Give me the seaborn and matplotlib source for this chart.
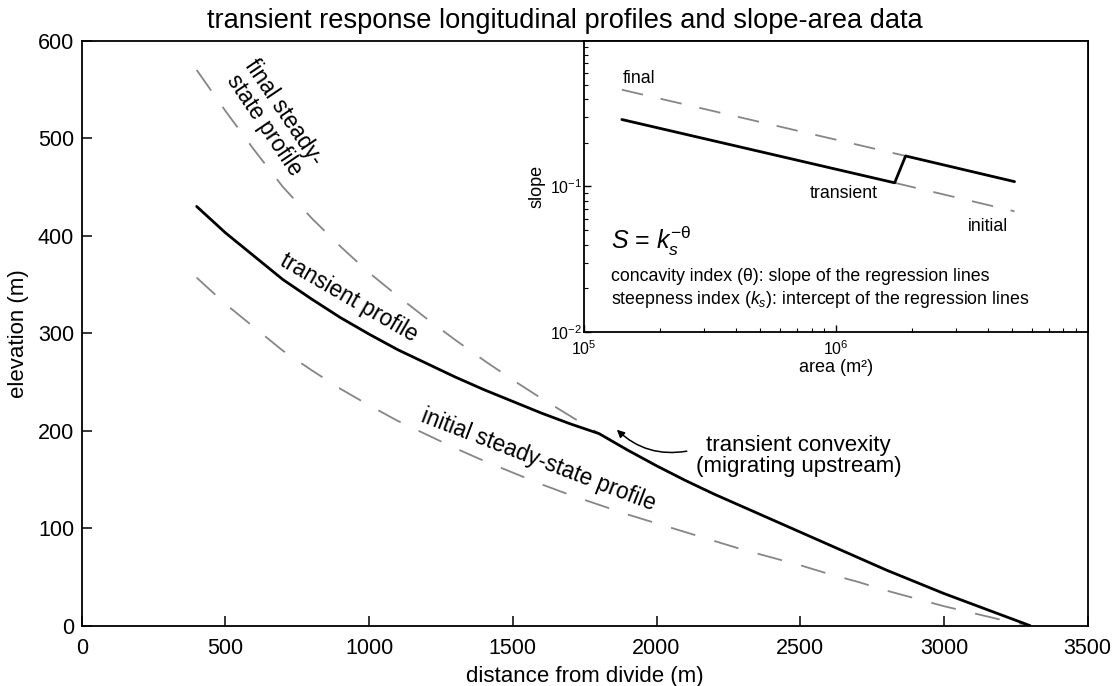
import numpy as np
import matplotlib
matplotlib.use("Agg")
import matplotlib.pyplot as plt
import seaborn as sns

# longitudinal profiles (distance from divide, m / elevation, m)
distance = [400, 500, 600, 700, 800, 900, 1000, 1100, 1200, 1300, 1400, 1500,
            1600, 1700, 1800, 1900, 2000, 2100, 2200, 2300, 2400, 2500, 2600,
            2700, 2800, 2900, 3000, 3100, 3200, 3300]
initial_elev = [357, 330, 306, 282, 262, 243, 226, 210, 196, 182, 169, 157,
                145, 134, 124, 114, 105, 96, 87, 78, 70, 62, 53,
                45, 36, 28, 20, 13, 6, 0]
transient_elev = [430, 403, 379, 355, 335, 316, 299, 283, 269, 255, 242, 230,
                  218, 207, 197, 180, 164, 149, 135, 122, 109, 96, 83,
                  70, 57, 45, 33, 22, 11, 0]
final_dist = [400, 500, 600, 700, 800, 900, 1000, 1100, 1200, 1300, 1400,
              1500, 1600, 1700, 1800]
final_elev = [570, 528, 488, 450, 418, 389, 362, 338, 315, 293, 272,
              252, 233, 215, 197]

# slope-area regression lines (inset)
final_area = [1.41e5, 1.89e6]
final_slope = [0.461, 0.162]
initial_area = [1.71e6, 5.12e6]
initial_slope = [0.106, 0.0676]
transient_area = [1.41e5, 1.71e6, 1.89e6, 5.12e6]
transient_slope = [0.288, 0.106, 0.162, 0.108]

GRAY = "#868686"
DASH = (0, (14, 11))

sns.set_theme(style="ticks")
plt.rcParams["font.family"] = ["Liberation Sans", "DejaVu Sans"]
plt.rcParams["mathtext.fontset"] = "custom"
plt.rcParams["mathtext.rm"] = "Liberation Sans"
plt.rcParams["mathtext.it"] = "Liberation Sans:italic"
plt.rcParams["mathtext.default"] = "regular"
plt.rcParams["axes.linewidth"] = 1.3
plt.rcParams["axes.edgecolor"] = "black"
plt.rcParams["text.color"] = "black"
plt.rcParams["axes.labelcolor"] = "black"
plt.rcParams["xtick.color"] = "black"
plt.rcParams["ytick.color"] = "black"

fig = plt.figure(figsize=(11.17, 6.86), dpi=100)
ax = fig.add_axes([0.07314, 0.08790, 0.90063, 0.85277])

sns.lineplot(x=final_dist, y=final_elev, ax=ax, color=GRAY, lw=1.3,
             linestyle=DASH, estimator=None, sort=False, legend=False)
sns.lineplot(x=distance, y=initial_elev, ax=ax, color=GRAY, lw=1.3,
             linestyle=DASH, estimator=None, sort=False, legend=False)
sns.lineplot(x=distance, y=transient_elev, ax=ax, color="black", lw=2,
             estimator=None, sort=False, legend=False)

ax.set_xlim(0, 3500)
ax.set_ylim(0, 600)
ax.set_xticks(range(0, 3501, 500))
ax.set_yticks(range(0, 601, 100))
ax.tick_params(direction="in", length=7.5, width=1.1, labelsize=15.5,
               top=False, right=False)
ax.tick_params(axis="x", pad=9)
ax.tick_params(axis="y", pad=5.5)
ax.set_xlabel("distance from divide (m)", fontsize=16, labelpad=5)
ax.set_ylabel("elevation (m)", fontsize=16, labelpad=6)

fig.text(0.506, 0.970, "transient response longitudinal profiles and slope-area data",
         ha="center", va="center", fontsize=19.6)

ax.text(668, 520, "final steady-\nstate profile", rotation=-56, fontsize=16.3,
        ha="center", va="center", rotation_mode="anchor", linespacing=1.05)
ax.text(928, 336, "transient profile", rotation=-30, fontsize=16.3,
        ha="center", va="center", rotation_mode="anchor")
ax.text(1588, 170, "initial steady-state profile", rotation=-21, fontsize=16.3,
        ha="center", va="center", rotation_mode="anchor")
ax.text(2494, 174, "transient convexity\n(migrating upstream)", fontsize=16,
        ha="center", va="center", linespacing=1.05)
ax.annotate("", xy=(1862, 201), xytext=(2105, 179),
            arrowprops=dict(arrowstyle="-|>", color="black", lw=1.1,
                            mutation_scale=11,
                            connectionstyle="arc3,rad=-0.25",
                            shrinkA=0, shrinkB=0))

# inset: slope-area data
ins = fig.add_axes([0.52310, 0.51560, 0.45067, 0.42507])
ins.set_facecolor("white")
sns.lineplot(x=final_area, y=final_slope, ax=ins, color=GRAY, lw=1.3,
             linestyle=(0, (12, 10)), estimator=None, sort=False, legend=False)
sns.lineplot(x=initial_area, y=initial_slope, ax=ins, color=GRAY, lw=1.3,
             linestyle=(0, (12, 10)), estimator=None, sort=False, legend=False)
sns.lineplot(x=transient_area, y=transient_slope, ax=ins, color="black", lw=2,
             estimator=None, sort=False, legend=False)
ins.set_xscale("log")
ins.set_yscale("log")
ins.set_xlim(1e5, 1e7)
ins.set_ylim(1e-2, 1e0)
ins.set_xticks([1e5, 1e6])
ins.set_yticks([1e-2, 1e-1])
ins.tick_params(which="major", direction="in", length=5, width=1, labelsize=11.5,
                top=False, right=False)
ins.tick_params(which="minor", direction="in", length=3, width=0.8,
                top=False, right=False)
ins.tick_params(axis="x", which="major", pad=5)
ins.tick_params(axis="y", which="major", pad=1.5)
ins.set_xlabel("area (m²)", fontsize=13, labelpad=1)
ins.set_ylabel("slope", fontsize=13, labelpad=3)

ins.text(1.42e5, 0.548, "final", fontsize=12.8, ha="left", va="center")
ins.text(1.07e6, 0.090, "transient", fontsize=12.8, ha="center", va="center")
ins.text(4.0e6, 0.0534, "initial", fontsize=12.8, ha="center", va="center")
ins.text(0.053, 0.3125, r"$\mathit{S}$ = $\mathit{k}_\mathit{s}^{-\theta}$",
         fontsize=18, ha="left", va="center", transform=ins.transAxes)
ins.text(0.053, 0.193, "concavity index (θ): slope of the regression lines",
         fontsize=12.8, ha="left", va="center", transform=ins.transAxes)
ins.text(0.053, 0.114,
         r"steepness index ($\mathit{k}_\mathit{s}$): intercept of the regression lines",
         fontsize=12.8, ha="left", va="center", transform=ins.transAxes)

fig.savefig("out.png", dpi=100)
